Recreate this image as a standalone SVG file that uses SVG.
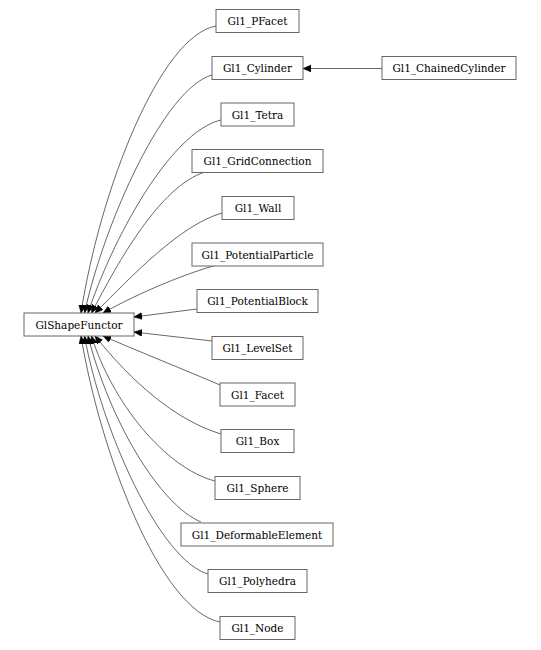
<svg xmlns="http://www.w3.org/2000/svg" width="541" height="650" viewBox="0 0 541 650">
<defs>
<style>
.n rect{fill:#fff;stroke:#666;stroke-width:1}
.n text{font-family:'DejaVu Serif',serif;font-size:10.5px;fill:#000;text-anchor:middle}
.e path{fill:none;stroke:#404040;stroke-width:0.8;marker-end:url(#ah)}
</style>
<marker id="ah" markerUnits="userSpaceOnUse" markerWidth="10" markerHeight="10" refX="8" refY="3.5" orient="auto">
<path d="M0,0 L8,3.5 L0,7 Z" fill="#000" stroke="#000" stroke-width="0.5"/>
</marker>
</defs>
<rect width="541" height="650" fill="#fff"/>
<g id="edges" class="e">
<path d="M216,26 C160,36 100,190 81,313"/>
<path d="M212,75 C165,88 105,220 84.5,313"/>
<path d="M221,120 C170,132 112,240 88,313"/>
<path d="M205,172 C160,186 118,262 91.5,313"/>
<path d="M222,213 C180,225 132,276 95,313"/>
<path d="M217,265 C190,272 140,292 103,313"/>
<path d="M197,309 L134,317"/>
<path d="M212,341 L134,332"/>
<path d="M220,385 C185,370 140,352 103,336"/>
<path d="M221,434 C175,420 132,382 95,336"/>
<path d="M215,481 C165,468 112,402 91.5,336"/>
<path d="M201,522 C160,505 110,422 88,336"/>
<path d="M208,574 C160,560 102,432 84.5,336"/>
<path d="M220,622 C160,610 100,452 81,336"/>
<path d="M382,68.5 L303,68.5"/>
</g>
<g id="GlShapeFunctor" class="n"><rect x="24" y="313" width="110" height="23"/><text x="79" y="328.5">GlShapeFunctor</text></g>
<g id="Gl1_PFacet" class="n"><rect x="216" y="9.5" width="83" height="23"/><text x="257.5" y="25">Gl1_PFacet</text></g>
<g id="Gl1_Cylinder" class="n"><rect x="212" y="56.5" width="91" height="23"/><text x="257.5" y="72">Gl1_Cylinder</text></g>
<g id="Gl1_ChainedCylinder" class="n"><rect x="382" y="56.5" width="134" height="23"/><text x="449" y="72">Gl1_ChainedCylinder</text></g>
<g id="Gl1_Tetra" class="n"><rect x="221" y="103" width="73" height="23"/><text x="257.5" y="118.5">Gl1_Tetra</text></g>
<g id="Gl1_GridConnection" class="n"><rect x="192" y="149.5" width="131" height="23"/><text x="257.5" y="165">Gl1_GridConnection</text></g>
<g id="Gl1_Wall" class="n"><rect x="222" y="196.5" width="72" height="23"/><text x="258" y="212">Gl1_Wall</text></g>
<g id="Gl1_PotentialParticle" class="n"><rect x="192" y="243" width="131" height="23"/><text x="257.5" y="258.5">Gl1_PotentialParticle</text></g>
<g id="Gl1_PotentialBlock" class="n"><rect x="197" y="289.5" width="121" height="23"/><text x="257.5" y="305">Gl1_PotentialBlock</text></g>
<g id="Gl1_LevelSet" class="n"><rect x="212" y="336.5" width="91" height="23"/><text x="257.5" y="352">Gl1_LevelSet</text></g>
<g id="Gl1_Facet" class="n"><rect x="220" y="383" width="75" height="23"/><text x="257.5" y="398.5">Gl1_Facet</text></g>
<g id="Gl1_Box" class="n"><rect x="221" y="429.5" width="73" height="23"/><text x="257.5" y="445">Gl1_Box</text></g>
<g id="Gl1_Sphere" class="n"><rect x="215" y="476.5" width="85" height="23"/><text x="257.5" y="492">Gl1_Sphere</text></g>
<g id="Gl1_DeformableElement" class="n"><rect x="181" y="523" width="152" height="23"/><text x="257" y="538.5">Gl1_DeformableElement</text></g>
<g id="Gl1_Polyhedra" class="n"><rect x="208" y="569.5" width="99" height="23"/><text x="257.5" y="585">Gl1_Polyhedra</text></g>
<g id="Gl1_Node" class="n"><rect x="220" y="616.5" width="75" height="23"/><text x="257.5" y="632">Gl1_Node</text></g>
</svg>
